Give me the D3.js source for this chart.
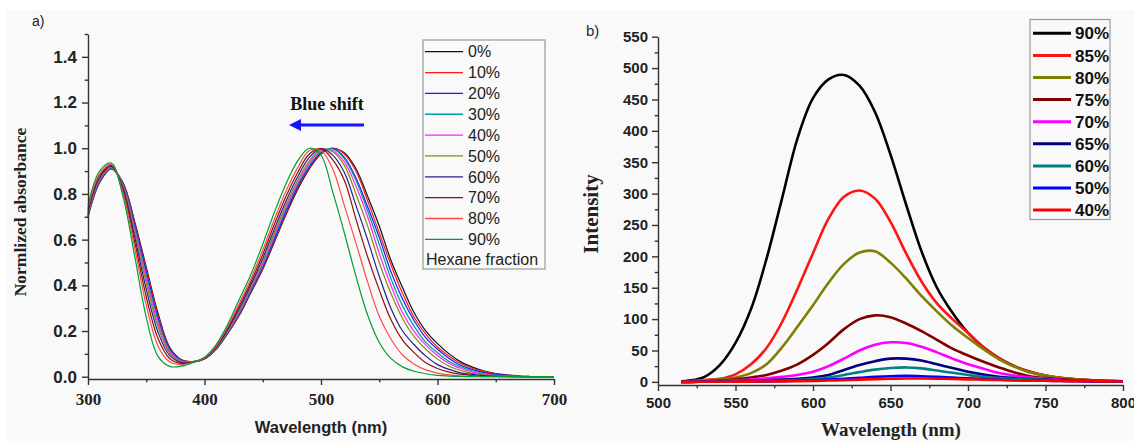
<!DOCTYPE html>
<html>
<head>
<meta charset="utf-8">
<script src="https://cdn.jsdelivr.net/npm/d3@7"></script>
<style>
  body { margin: 0; background: #fff; }
</style>
</head>
<body>
<svg id="chart" width="1134" height="441"></svg>
<script>
// ---------------- Data: a) normalized absorbance ----------------
const absWavelength = [300, 310, 320, 330, 340, 350, 360, 370, 380, 390, 400, 410, 420, 430, 440, 450, 460, 470, 480,
  490, 500, 510, 520, 530, 540, 550, 560, 570, 580, 590, 600, 610, 620, 630, 640, 650, 660, 670, 680, 690, 700];

const abs00 = [0.70, 0.85, 0.91, 0.85, 0.68, 0.48, 0.28, 0.13, 0.075, 0.066, 0.078, 0.12, 0.19, 0.27, 0.37, 0.47, 0.59, 0.71, 0.82,
  0.91, 0.975, 1.0, 0.98, 0.91, 0.79, 0.66, 0.51, 0.39, 0.28, 0.20, 0.145, 0.10, 0.065, 0.042, 0.025, 0.014, 0.008, 0.003, 0.001, 0, 0];
const abs10 = [0.702, 0.852, 0.911, 0.847, 0.673, 0.470, 0.272, 0.126, 0.074, 0.066, 0.078, 0.121, 0.192, 0.273, 0.374, 0.475, 0.596, 0.716, 0.826,
  0.915, 0.977, 1.0, 0.975, 0.90, 0.77, 0.63, 0.49, 0.365, 0.26, 0.185, 0.13, 0.09, 0.058, 0.037, 0.022, 0.012, 0.006, 0.0025, 0.001, 0, 0];
const abs20 = [0.705, 0.855, 0.913, 0.844, 0.665, 0.458, 0.261, 0.122, 0.072, 0.066, 0.079, 0.122, 0.194, 0.277, 0.378, 0.481, 0.603, 0.724, 0.833,
  0.92, 0.98, 0.999, 0.96, 0.87, 0.744, 0.61, 0.46, 0.34, 0.245, 0.17, 0.12, 0.08, 0.05, 0.031, 0.018, 0.01, 0.005, 0.002, 0, 0, 0];
const abs30 = [0.708, 0.858, 0.914, 0.840, 0.656, 0.445, 0.250, 0.116, 0.070, 0.065, 0.079, 0.123, 0.196, 0.281, 0.383, 0.488, 0.611, 0.732, 0.840,
  0.925, 0.985, 0.997, 0.955, 0.86, 0.725, 0.58, 0.43, 0.31, 0.22, 0.15, 0.105, 0.067, 0.043, 0.026, 0.014, 0.0075, 0.0035, 0.001, 0, 0, 0];
const abs40 = [0.712, 0.862, 0.916, 0.836, 0.645, 0.428, 0.235, 0.110, 0.068, 0.065, 0.080, 0.125, 0.199, 0.286, 0.389, 0.496, 0.621, 0.742, 0.849,
  0.935, 0.99, 0.99, 0.94, 0.835, 0.70, 0.54, 0.40, 0.28, 0.197, 0.138, 0.093, 0.058, 0.036, 0.02, 0.011, 0.006, 0.002, 0.001, 0, 0, 0];
const abs50 = [0.716, 0.866, 0.918, 0.831, 0.632, 0.410, 0.219, 0.103, 0.066, 0.065, 0.080, 0.126, 0.203, 0.292, 0.396, 0.505, 0.632, 0.753, 0.860,
  0.945, 0.995, 0.985, 0.925, 0.80, 0.66, 0.50, 0.365, 0.255, 0.175, 0.12, 0.077, 0.046, 0.027, 0.0145, 0.0085, 0.004, 0.0015, 0, 0, 0, 0];
const abs60 = [0.722, 0.872, 0.921, 0.824, 0.614, 0.383, 0.196, 0.093, 0.062, 0.064, 0.081, 0.129, 0.208, 0.301, 0.405, 0.518, 0.647, 0.769, 0.875,
  0.96, 0.998, 0.97, 0.895, 0.75, 0.60, 0.44, 0.30, 0.20, 0.14, 0.09, 0.053, 0.032, 0.017, 0.01, 0.005, 0.002, 0.001, 0, 0, 0, 0];
const abs70 = [0.730, 0.880, 0.925, 0.815, 0.592, 0.350, 0.168, 0.080, 0.058, 0.064, 0.082, 0.132, 0.214, 0.311, 0.417, 0.535, 0.667, 0.790, 0.894,
  0.975, 0.998, 0.95, 0.86, 0.69, 0.525, 0.38, 0.25, 0.16, 0.105, 0.061, 0.036, 0.02, 0.011, 0.005, 0.002, 0.001, 0, 0, 0, 0, 0];
const abs80 = [0.738, 0.888, 0.929, 0.804, 0.566, 0.313, 0.136, 0.065, 0.053, 0.063, 0.083, 0.135, 0.220, 0.323, 0.431, 0.554, 0.689, 0.813, 0.915,
  0.99, 0.99, 0.91, 0.75, 0.585, 0.415, 0.265, 0.165, 0.095, 0.055, 0.03, 0.016, 0.008, 0.004, 0.002, 0, 0, 0, 0, 0, 0, 0];
const abs90 = [0.75, 0.90, 0.935, 0.79, 0.53, 0.26, 0.09, 0.045, 0.046, 0.062, 0.085, 0.14, 0.23, 0.34, 0.45, 0.58, 0.72, 0.845, 0.945,
  1.0, 0.97, 0.81, 0.63, 0.44, 0.27, 0.15, 0.08, 0.043, 0.024, 0.013, 0.006, 0.003, 0.001, 0, 0, 0, 0, 0, 0, 0, 0];

const absLabels = ["0%", "10%", "20%", "30%", "40%", "50%", "60%", "70%", "80%", "90%"];
const absColors = ["#111111", "#ff1a1a", "#1a1aff", "#009a9a", "#ff22ff", "#8a8a10", "#22228f", "#8b1010", "#ff4a4a", "#00a030"];
const absXTicks = [300, 400, 500, 600, 700];
const absXMinor = [350, 450, 550, 650];
const absYTicks = [0, 0.2, 0.4, 0.6, 0.8, 1.0, 1.2, 1.4];
const absYMinor = [0.1, 0.3, 0.5, 0.7, 0.9, 1.1, 1.3, 1.5];

// ---------------- Data: b) emission intensity ----------------
const emWavelength = [515, 520, 530, 540, 550, 560, 570, 580, 590, 600, 610, 620, 630, 640, 650,
  660, 670, 680, 690, 700, 710, 720, 730, 740, 750, 760, 770, 780, 790, 800];

const em90 = [1, 2, 8, 27, 62, 116, 196, 292, 388, 452, 482, 489, 472, 430, 362, 283, 208, 150, 110, 78, 55, 38, 25, 16, 10, 6, 4, 2.5, 1.5, 1];
const em85 = [0.5, 1, 3, 5, 12, 28, 54, 95, 148, 205, 260, 295, 305, 292, 255, 205, 160, 125, 100, 78, 55, 38, 25, 16, 10, 6.5, 4, 2.5, 1.5, 1];
const em80 = [0.5, 1, 2, 4, 7, 14, 28, 55, 88, 122, 158, 188, 206, 208, 190, 165, 137, 112, 89, 70, 52, 36, 24, 15, 10, 6, 3.5, 2, 1.5, 1];
const em75 = [0, 0.5, 1, 2, 4, 7, 11, 18, 28, 43, 62, 84, 100, 106, 103, 93, 81, 67, 53, 42, 32, 23, 15, 9, 6, 4, 2.5, 1.5, 1, 0.5];
const em70 = [0, 0, 0.5, 1, 2, 3.5, 5.5, 8, 11, 16, 25, 37, 50, 59, 63, 62, 56, 47, 37, 28, 21, 14, 10, 7, 5, 3, 2, 1.5, 1, 0.5];
const em65 = [0, 0, 0.3, 0.5, 1, 1.5, 2.5, 3.5, 5, 7, 11, 19, 27, 33, 37, 37, 34, 28, 22, 16, 11.5, 8, 6, 4.5, 3.5, 2.5, 1.8, 1.2, 0.8, 0.5];
const em60 = [0, 0, 0.2, 0.4, 0.7, 1, 1.5, 2.2, 3, 4.5, 7, 11, 15.5, 19.5, 22, 23, 21.5, 18, 14.5, 11, 8, 6, 4.5, 3.5, 2.8, 2, 1.5, 1, 0.7, 0.5];
const em50 = [0, 0, 0.1, 0.2, 0.3, 0.5, 0.8, 1.2, 1.7, 2.4, 3.5, 5, 6.5, 8, 9, 9.5, 9, 8, 6.8, 5.5, 4.4, 3.5, 2.8, 2.2, 1.8, 1.4, 1.1, 0.8, 0.6, 0.5];
const em40 = [0, 0, 0.1, 0.2, 0.3, 0.4, 0.6, 0.8, 1.1, 1.5, 2.1, 2.8, 3.6, 4.4, 5, 5.4, 5.3, 5, 4.5, 4, 3.4, 2.9, 2.4, 2, 1.7, 1.4, 1.1, 0.9, 0.7, 0.5];

const emLabels = ["90%", "85%", "80%", "75%", "70%", "65%", "60%", "50%", "40%"];
const emColors = ["#000000", "#ff1414", "#808000", "#800000", "#ff00ff", "#000080", "#008080", "#0000ff", "#ff0000"];
const emXTicks = [500, 550, 600, 650, 700, 750, 800];
const emXMinor = [525, 575, 625, 675, 725, 775];
const emYTicks = [0, 50, 100, 150, 200, 250, 300, 350, 400, 450, 500, 550];
const emYMinor = [25, 75, 125, 175, 225, 275, 325, 375, 425, 475, 525];

// ---------------- Setup ----------------
const SANS = "'Liberation Sans', Arial, sans-serif";
const SERIF = "'Liberation Serif', 'Times New Roman', serif";

const svg = d3.select("#chart");

svg.append("rect")
  .attr("x", 7).attr("y", 10)
  .attr("width", 1127).attr("height", 431)
  .attr("fill", "#f9f9f9");

// draws major + minor ticks; labels only on majors
function drawAxis(g, axisFn, scale, major, minor, fmt, size) {
  const minorG = g.append("g").call(axisFn(scale).tickValues(minor).tickSize(size * 0.55).tickSizeOuter(0).tickFormat(""));
  minorG.select(".domain").remove();
  const majorG = g.append("g").call(axisFn(scale).tickValues(major).tickSize(size).tickSizeOuter(0).tickFormat(fmt));
  g.selectAll("path, line").attr("stroke", "#333").attr("stroke-width", 1.4);
  return majorG;
}

// ---------------- Panel a ----------------
const xA = d3.scaleLinear().domain([300, 700]).range([88, 554]);
const yA = d3.scaleLinear().domain([-0.01, 1.5]).range([379, 34]);
const gA = svg.append("g");

const absSeries = [abs00, abs10, abs20, abs30, abs40, abs50, abs60, abs70, abs80, abs90]
  .map((values, i) => ({ label: absLabels[i], color: absColors[i], values }));

const lineA = d3.line()
  .x((d, i) => xA(absWavelength[i]))
  .y(d => yA(d))
  .curve(d3.curveCatmullRom.alpha(0.5));

gA.append("g").selectAll("path")
  .data(absSeries)
  .enter()
  .append("path")
  .attr("d", d => lineA(d.values))
  .attr("fill", "none")
  .attr("stroke", d => d.color)
  .attr("stroke-width", 1.2);

const axA_x = drawAxis(gA.append("g").attr("transform", "translate(0,379)"), d3.axisBottom, xA, absXTicks, absXMinor, d3.format("d"), 6);
axA_x.selectAll("text")
  .attr("y", 26).attr("dy", null)
  .attr("font-family", SERIF).attr("font-weight", "bold").attr("font-size", 17).attr("fill", "#222");

const axA_y = drawAxis(gA.append("g").attr("transform", "translate(88,0)"), d3.axisLeft, yA, absYTicks, absYMinor, d3.format(".1f"), 6);
axA_y.selectAll("text")
  .attr("x", -11)
  .attr("font-family", SANS).attr("font-weight", "bold").attr("font-size", 17).attr("fill", "#222");

gA.append("text")
  .attr("x", 321).attr("y", 433)
  .attr("text-anchor", "middle")
  .attr("font-family", SANS).attr("font-weight", "bold").attr("font-size", 16.5).attr("fill", "#222")
  .text("Wavelength (nm)");

gA.append("text")
  .attr("transform", "translate(26,212) rotate(-90)")
  .attr("text-anchor", "middle")
  .attr("font-family", SERIF).attr("font-weight", "bold").attr("font-size", 17.5).attr("fill", "#222")
  .text("Normlized absorbance");

gA.append("text")
  .attr("x", 32).attr("y", 26)
  .attr("font-family", SANS).attr("font-size", 14).attr("fill", "#222")
  .text("a)");

// blue shift annotation
gA.append("text")
  .attr("x", 327).attr("y", 110)
  .attr("text-anchor", "middle")
  .attr("font-family", SERIF).attr("font-weight", "bold").attr("font-size", 18).attr("fill", "#111")
  .text("Blue shift");
gA.append("line")
  .attr("x1", 364).attr("x2", 298).attr("y1", 125).attr("y2", 125)
  .attr("stroke", "#1515ff").attr("stroke-width", 3);
gA.append("path")
  .attr("d", "M289,125 L301,119 L301,131 Z")
  .attr("fill", "#1515ff");

// legend a
const legA = gA.append("g");
legA.append("rect")
  .attr("x", 423).attr("y", 40).attr("width", 122).attr("height", 229)
  .attr("fill", "none").attr("stroke", "#999").attr("stroke-width", 1.2);
const legARows = legA.selectAll("g.row")
  .data(absSeries)
  .enter()
  .append("g")
  .attr("class", "row")
  .attr("transform", (d, i) => `translate(0,${51.7 + i * 20.85})`);
legARows.append("line")
  .attr("x1", 425).attr("x2", 463)
  .attr("stroke", d => d.color).attr("stroke-width", 1.3);
legARows.append("text")
  .attr("x", 468).attr("dy", "0.36em")
  .attr("font-family", SANS).attr("font-size", 16).attr("fill", "#222")
  .text(d => d.label);
legA.append("text")
  .attr("x", 426).attr("y", 265)
  .attr("font-family", SANS).attr("font-size", 16).attr("fill", "#222")
  .text("Hexane fraction");

// ---------------- Panel b ----------------
const xB = d3.scaleLinear().domain([500, 800]).range([658, 1123]);
const yB = d3.scaleLinear().domain([-5, 550]).range([385, 36.7]);
const gB = svg.append("g");

const emSeries = [em90, em85, em80, em75, em70, em65, em60, em50, em40]
  .map((values, i) => ({ label: emLabels[i], color: emColors[i], values }));

const lineB = d3.line()
  .x((d, i) => xB(emWavelength[i]))
  .y(d => yB(d))
  .curve(d3.curveCatmullRom.alpha(0.5));

gB.append("g").selectAll("path")
  .data(emSeries)
  .enter()
  .append("path")
  .attr("d", d => lineB(d.values))
  .attr("fill", "none")
  .attr("stroke", d => d.color)
  .attr("stroke-width", 2.6);

const axB_x = drawAxis(gB.append("g").attr("transform", "translate(0,385)"), d3.axisBottom, xB, emXTicks, emXMinor, d3.format("d"), 6);
axB_x.selectAll("text")
  .attr("y", 23).attr("dy", null)
  .attr("font-family", SANS).attr("font-weight", "bold").attr("font-size", 15).attr("fill", "#222");

const axB_y = drawAxis(gB.append("g").attr("transform", "translate(658,0)"), d3.axisLeft, yB, emYTicks, emYMinor, d3.format("d"), 6);
axB_y.selectAll("text")
  .attr("x", -10)
  .attr("font-family", SANS).attr("font-weight", "bold").attr("font-size", 15).attr("fill", "#222");

gB.append("text")
  .attr("x", 891).attr("y", 436)
  .attr("text-anchor", "middle")
  .attr("font-family", SERIF).attr("font-weight", "bold").attr("font-size", 19).attr("fill", "#222")
  .text("Wavelength (nm)");

gB.append("text")
  .attr("transform", "translate(598,214) rotate(-90)")
  .attr("text-anchor", "middle")
  .attr("font-family", SERIF).attr("font-weight", "bold").attr("font-size", 21).attr("fill", "#222")
  .text("Intensity");

gB.append("text")
  .attr("x", 586).attr("y", 36)
  .attr("font-family", SANS).attr("font-size", 15).attr("fill", "#1f2a44")
  .text("b)");

// legend b
const legB = gB.append("g");
legB.append("rect")
  .attr("x", 1030).attr("y", 19.5).attr("width", 80).attr("height", 200)
  .attr("fill", "none").attr("stroke", "#999").attr("stroke-width", 1.2);
const legBRows = legB.selectAll("g.row")
  .data(emSeries)
  .enter()
  .append("g")
  .attr("class", "row")
  .attr("transform", (d, i) => `translate(0,${33.3 + i * 22.1})`);
legBRows.append("line")
  .attr("x1", 1033).attr("x2", 1071)
  .attr("stroke", d => d.color).attr("stroke-width", 3);
legBRows.append("text")
  .attr("x", 1075).attr("dy", "0.36em")
  .attr("font-family", SANS).attr("font-weight", "bold").attr("font-size", 17).attr("fill", "#111")
  .text(d => d.label);
</script>
</body>
</html>
